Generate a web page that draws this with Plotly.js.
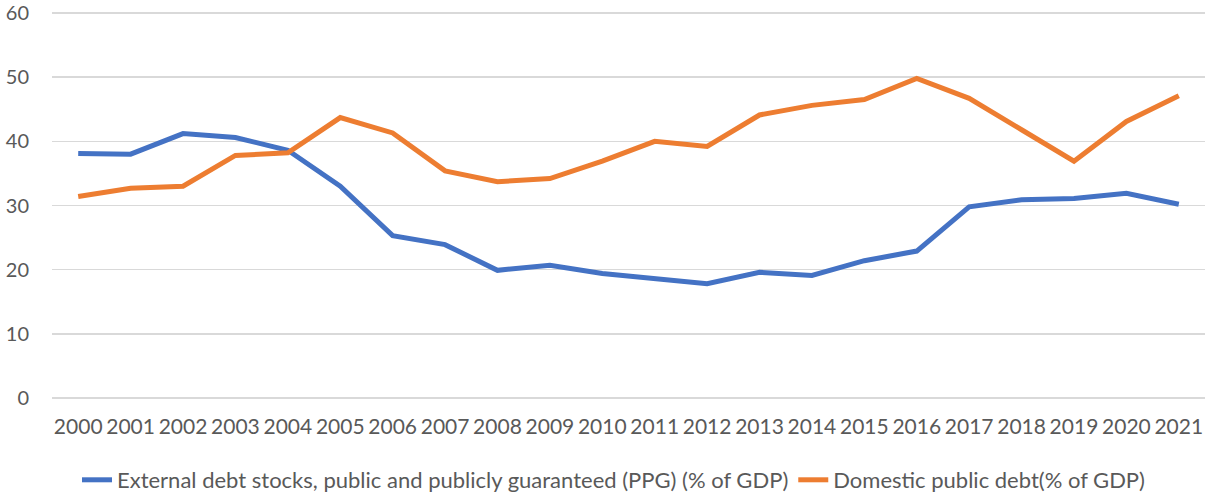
<!DOCTYPE html>
<html>
<head>
<meta charset="utf-8">
<script src="https://cdn.plot.ly/plotly-3.0.1.min.js"></script>
<style>
  html, body { margin: 0; padding: 0; background: #fff; }
  #chart { width: 1205px; height: 492px; }
</style>
</head>
<body>
<div id="chart"></div>
<script>
// years on the category axis
var years = ['2000', '2001', '2002', '2003', '2004', '2005', '2006', '2007', '2008', '2009', '2010',
             '2011', '2012', '2013', '2014', '2015', '2016', '2017', '2018', '2019', '2020', '2021'];

// External debt stocks, PPG (% of GDP)
var externalDebt = [38.1, 38.0, 41.2, 40.6, 38.6, 33.0, 25.3, 23.9, 19.9, 20.7, 19.4,
                    18.6, 17.8, 19.6, 19.1, 21.4, 22.9, 29.8, 30.9, 31.1, 31.9, 30.2];

// Domestic public debt (% of GDP)
var domesticDebt = [31.4, 32.7, 33.0, 37.8, 38.2, 43.7, 41.3, 35.4, 33.7, 34.2, 36.9,
                    40.0, 39.2, 44.1, 45.6, 46.5, 49.8, 46.7, 41.8, 36.9, 43.1, 47.1];

var yTicks = [0, 10, 20, 30, 40, 50, 60];

var textColor = '#595959';
var fontFamily = 'Lato, "Open Sans", sans-serif';

var data = [
    {
        x: years, y: externalDebt, type: 'scatter', mode: 'lines',
        name: 'External debt stocks, public and publicly guaranteed (PPG) (% of GDP)',
        line: {color: '#4472C4', width: 5}
    },
    {
        x: years, y: domesticDebt, type: 'scatter', mode: 'lines',
        name: 'Domestic public debt(% of GDP)',
        line: {color: '#ED7D31', width: 5}
    }
];

var layout = {
    width: 1205,
    height: 492,
    margin: {l: 52, r: 0, t: 11, b: 92},
    paper_bgcolor: '#ffffff',
    plot_bgcolor: '#ffffff',
    font: {family: fontFamily, size: 21, color: textColor},
    showlegend: true,
    legend: {
        orientation: 'h',
        xref: 'container', yref: 'container',
        x: 0.0639, xanchor: 'left',
        y: 0.0244, yanchor: 'middle',
        font: {family: fontFamily, size: 22, color: textColor},
        bgcolor: 'rgba(0,0,0,0)'
    },
    xaxis: {
        type: 'category',
        range: [-0.5, 21.5],
        showgrid: false,
        zeroline: false,
        showline: false,
        ticks: '',
        ticklabelstandoff: 12,
        tickangle: 0,
        tickfont: {family: fontFamily, size: 21, color: textColor}
    },
    yaxis: {
        range: [-0.3, 60.3],
        tickmode: 'array',
        tickvals: yTicks,
        ticktext: yTicks.map(String),
        showgrid: true,
        gridcolor: '#d9d9d9',
        gridwidth: 1.3,
        zeroline: false,
        showline: false,
        ticks: '',
        ticklabelstandoff: 22,
        ticklabeloverflow: 'allow',
        tickfont: {family: fontFamily, size: 20, color: textColor}
    }
};

Plotly.newPlot('chart', data, layout, {displayModeBar: false, staticPlot: true});
</script>
</body>
</html>
